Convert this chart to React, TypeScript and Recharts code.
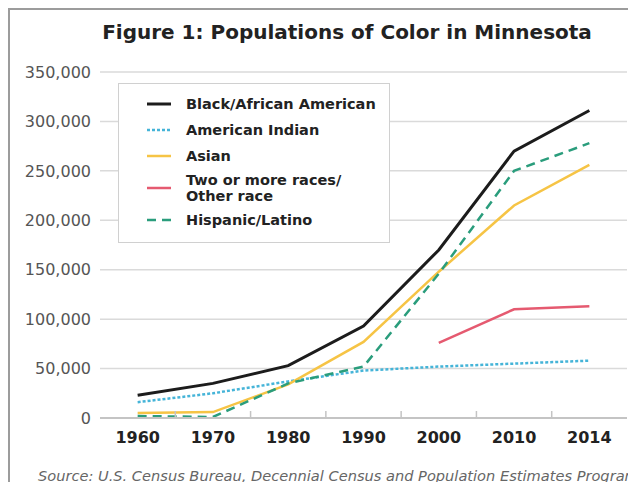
import React from "react";
import { LineChart, Line, XAxis, YAxis, CartesianGrid, Legend } from "recharts";

// census years and population counts per group
const years = ["1960", "1970", "1980", "1990", "2000", "2010", "2014"];
const black = [23000, 35000, 53000, 93000, 170000, 270000, 311000];
const americanIndian = [16000, 25000, 37000, 48000, 52000, 55000, 58000];
const asian = [5000, 6000, 34000, 77000, 148000, 215000, 256000];
const twoOrMore = [null, null, null, null, 76000, 110000, 113000];
const hispanic = [2000, 1000, 35000, 52000, 146000, 250000, 278000];
const yTicks = [0, 50000, 100000, 150000, 200000, 250000, 300000, 350000];

const series = [
  { key: "black", name: "Black/African American", color: "#1c1c1c", width: 3, dash: undefined },
  { key: "americanIndian", name: "American Indian", color: "#45b4d8", width: 2.5, dash: "3 2" },
  { key: "asian", name: "Asian", color: "#f6c445", width: 2.5, dash: undefined },
  { key: "twoOrMore", name: "Two or more races/\nOther race", color: "#e55a70", width: 2.5, dash: undefined },
  { key: "hispanic", name: "Hispanic/Latino", color: "#2a9d7c", width: 2.5, dash: "9 6" },
];

const data = years.map((year, i) => ({
  year,
  black: black[i],
  americanIndian: americanIndian[i],
  asian: asian[i],
  twoOrMore: twoOrMore[i],
  hispanic: hispanic[i],
}));

const CHART_W = 626;
const CHART_H = 472;
const margin = { top: 62, right: 9, left: 0, bottom: 34 };
const Y_AXIS_W = 90;
const bandWidth = (CHART_W - margin.left - margin.right - Y_AXIS_W) / years.length;
const font = "'DejaVu Sans', Verdana, sans-serif";

const formatThousands = (v: number) => v.toLocaleString("en-US");

// year label plus the small divider mark at the right edge of each band
const YearTick = (props: any) => {
  const { x, y, payload, index } = props;
  const axisY = y - 6;
  return (
    <g>
      {index < years.length - 1 && (
        <line
          x1={x + bandWidth / 2}
          x2={x + bandWidth / 2}
          y1={axisY - 7}
          y2={axisY}
          stroke="#c4c4c4"
          strokeWidth={1.5}
        />
      )}
      <text
        x={x}
        y={y + 19}
        textAnchor="middle"
        fontFamily={font}
        fontWeight="bold"
        fontSize={16}
        fill="#222"
      >
        {payload.value}
      </text>
    </g>
  );
};

const LegendBox = () => (
  <div
    style={{
      width: 272,
      height: 160,
      boxSizing: "border-box",
      border: "1.5px solid #d0d0d0",
      background: "#fff",
      paddingTop: 7,
      fontFamily: font,
      fontWeight: "bold",
      fontSize: 14.5,
      color: "#222",
    }}
  >
    {series.map((s) => {
      const lines = s.name.split("\n");
      return (
        <div
          key={s.key}
          style={{
            display: "flex",
            alignItems: "center",
            height: lines.length > 1 ? 38 : 26,
          }}
        >
          <svg width={67} height={10} style={{ flex: "none" }}>
            <line
              x1={28}
              x2={52}
              y1={5}
              y2={5}
              stroke={s.color}
              strokeWidth={s.width}
              strokeDasharray={s.dash}
            />
          </svg>
          <div style={{ lineHeight: "16px", whiteSpace: "nowrap" }}>
            {lines.map((l) => (
              <div key={l}>{l}</div>
            ))}
          </div>
        </div>
      );
    })}
  </div>
);

export default function App() {
  return (
    <div
      style={{
        position: "relative",
        width: 628,
        height: 474,
        boxSizing: "border-box",
        borderTop: "2px solid #9c9c9c",
        borderLeft: "2px solid #9c9c9c",
        overflow: "hidden",
        background: "#fff",
      }}
    >
      <div
        style={{
          position: "absolute",
          left: 0,
          width: 674,
          top: 10,
          textAlign: "center",
          fontFamily: font,
          fontWeight: "bold",
          fontSize: 20,
          color: "#222",
          zIndex: 2,
        }}
      >
        Figure 1: Populations of Color in Minnesota
      </div>
      <LineChart width={CHART_W} height={CHART_H} data={data} margin={margin}>
        <CartesianGrid vertical={false} stroke="#dadada" strokeWidth={1.5} />
        <XAxis
          dataKey="year"
          height={30}
          stroke="#c4c4c4"
          strokeWidth={2}
          tickLine={false}
          tickSize={0}
          tickMargin={6}
          tick={<YearTick />}
          interval={0}
          padding={{ left: bandWidth / 2, right: bandWidth / 2 }}
        />
        <YAxis
          width={Y_AXIS_W}
          domain={[0, 350000]}
          ticks={yTicks}
          tickFormatter={formatThousands}
          axisLine={false}
          tickLine={false}
          tickSize={0}
          tickMargin={9}
          tick={{ fontFamily: font, fontSize: 16, fill: "#555" }}
        />
        <Legend
          layout="vertical"
          align="center"
          verticalAlign="middle"
          content={<LegendBox />}
          wrapperStyle={{ left: 108, top: 73, width: 272, height: 160 }}
        />
        {series.map((s) => (
          <Line
            key={s.key}
            dataKey={s.key}
            name={s.name}
            type="linear"
            stroke={s.color}
            strokeWidth={s.width}
            strokeDasharray={s.dash}
            dot={false}
            activeDot={false}
            connectNulls={false}
            isAnimationActive={false}
          />
        ))}
      </LineChart>
      <div
        style={{
          position: "absolute",
          left: 28,
          top: 457,
          whiteSpace: "nowrap",
          fontFamily: font,
          fontStyle: "italic",
          fontSize: 14.6,
          color: "#666",
        }}
      >
        Source: U.S. Census Bureau, Decennial Census and Population Estimates Program
      </div>
    </div>
  );
}
